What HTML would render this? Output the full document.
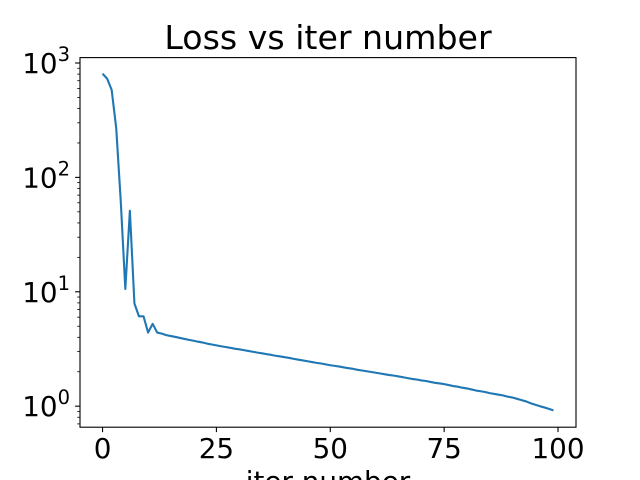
<!DOCTYPE html>
<html><head><meta charset="utf-8"><style>
html,body{margin:0;padding:0;background:#fff;}
svg{display:block;font-family:"DejaVu Sans","Liberation Sans",sans-serif;}
</style></head><body>
<svg id="chart" width="640" height="480" viewBox="0 0 640 480" xmlns="http://www.w3.org/2000/svg">
<text x="328" y="49" font-size="33.2" text-anchor="middle" fill="#000">Loss vs iter number</text>
<text x="328" y="491" font-size="27.8" text-anchor="middle" fill="#000">iter number</text>
<g id="ticks"></g>
<path id="line" fill="none" stroke="#1f77b4" stroke-width="2.1" stroke-linejoin="round"/>
<rect x="80" y="57.6" width="496" height="369.6" fill="none" stroke="#000" stroke-width="1.1"/>
</svg>
<script>
const iterations = Array.from({length:100},(_,i)=>i);
const lossValues = [807,730,582,270,62,10.6,51,7.9,6.1,6.1,4.4,5.25,4.4,4.31,4.18,
4.10,4.03,3.95,3.87,3.80,3.73,3.66,3.60,3.52,3.46,3.40,3.34,3.29,3.24,3.18,
3.14,3.09,3.04,2.99,2.94,2.90,2.85,2.81,2.76,2.72,2.68,2.64,2.59,2.55,2.51,
2.47,2.43,2.39,2.36,2.32,2.28,2.25,2.22,2.18,2.15,2.12,2.08,2.05,2.02,1.99,
1.96,1.93,1.90,1.87,1.85,1.82,1.79,1.76,1.73,1.71,1.68,1.66,1.63,1.60,1.58,
1.56,1.53,1.50,1.48,1.45,1.43,1.40,1.37,1.35,1.33,1.30,1.28,1.26,1.24,1.21,
1.19,1.16,1.13,1.10,1.06,1.03,1.00,0.975,0.948,0.92];
const xTicks = [0,25,50,75,100];
const yDecades = [0,1,2,3];

const L=80,R=576,T=57.6,B=427.2;
const xmin=-4.95,xmax=103.95;
const lymin=Math.log10(0.655),lymax=Math.log10(1115);
const xs=v=>L+(v-xmin)/(xmax-xmin)*(R-L);
const ys=v=>B-(Math.log10(v)-lymin)/(lymax-lymin)*(B-T);
const NS="http://www.w3.org/2000/svg";
const g=document.getElementById('ticks');
function mk(tag,attrs){const e=document.createElementNS(NS,tag);for(const k in attrs)e.setAttribute(k,attrs[k]);g.appendChild(e);return e;}
xTicks.forEach(t=>{
  const x=xs(t);
  const tk=mk('line',{x1:x,x2:x,y1:B,y2:B+4.9,stroke:'#000','stroke-width':1.1});
  
  
  const lb=mk('text',{x:x,y:B+31,'font-size':27.8,'text-anchor':'middle',fill:'#000'});
  lb.textContent=t;
  
  
});
yDecades.forEach(d=>{
  const y=ys(Math.pow(10,d));
  const tk=mk('line',{x1:L-4.9,x2:L,y1:y,y2:y,stroke:'#000','stroke-width':1.1});
  
  
  const lb=mk('text',{x:L-10,y:y+10,'font-size':27.8,'text-anchor':'end',fill:'#000'});
  const a=document.createElementNS(NS,'tspan');a.textContent='10';lb.appendChild(a);
  const s=document.createElementNS(NS,'tspan');s.setAttribute('dy','-12');s.setAttribute('font-size','19.5');s.textContent=d;lb.appendChild(s);
  
  
});
for(let d=-1;d<=3;d++){for(let m=2;m<=9;m++){const v=m*Math.pow(10,d);const y=ys(v);if(y<T||y>B)continue;
  const tk=mk('line',{x1:L-2.8,x2:L,y1:y,y2:y,stroke:'#000','stroke-width':0.8});
  
  
}}
document.getElementById('line').setAttribute('d',lossValues.map((v,i)=>(i?'L':'M')+xs(iterations[i]).toFixed(2)+' '+ys(v).toFixed(2)).join(' '));
</script>
</body></html>
